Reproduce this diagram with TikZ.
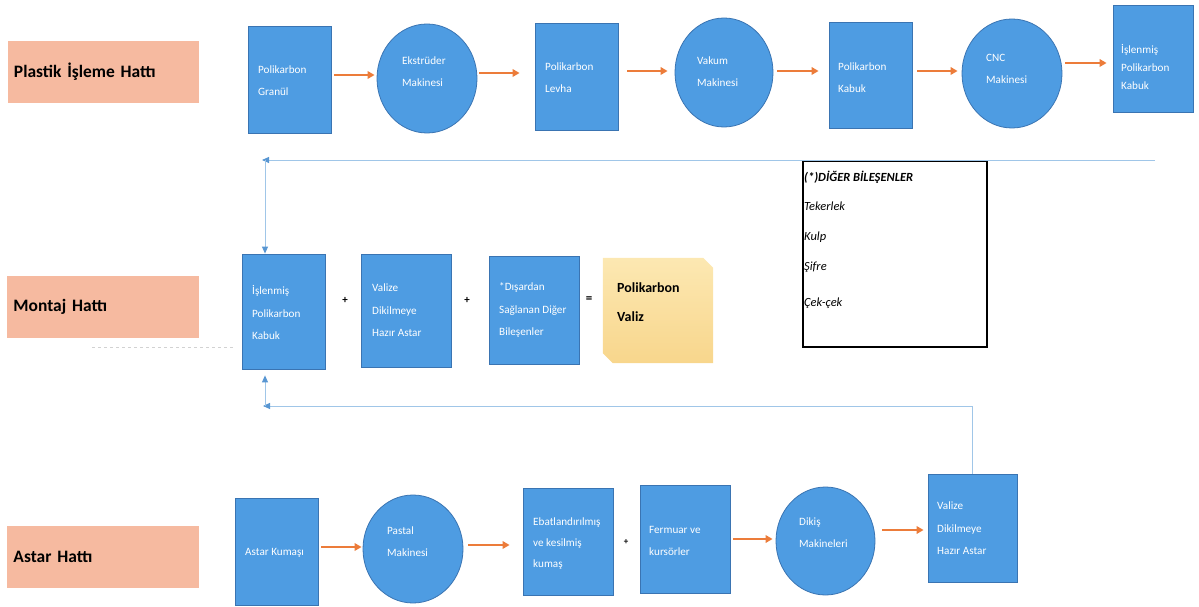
\documentclass[tikz,border=0pt]{standalone}
\usepackage{fontspec}
\setmainfont{Carlito}
\usetikzlibrary{arrows.meta,shapes.geometric}

\definecolor{laneFill}{RGB}{246,186,160}
\definecolor{stepFill}{RGB}{78,156,226}
\definecolor{stepEdge}{RGB}{58,116,178}
\definecolor{flowOrange}{RGB}{236,124,58}
\definecolor{linkBlue}{RGB}{160,198,232}
\definecolor{tipBlue}{RGB}{88,150,210}
\definecolor{goldTop}{RGB}{252,232,178}
\definecolor{goldBot}{RGB}{248,214,140}

\tikzset{
  lane/.style={rectangle, fill=laneFill, inner xsep=6bp, inner ysep=0pt,
    text width=179bp, minimum width=191bp, minimum height=62bp, align=left,
    font=\bfseries\fontsize{17.5}{20}\selectfont},
  stepbox/.style={rectangle, fill=stepFill, draw=stepEdge, line width=0.8bp, inner sep=0pt},
  stepdisc/.style={ellipse, fill=stepFill, draw=stepEdge, line width=0.8bp, inner sep=0pt},
  steptext/.style={text=white, align=left, inner sep=0pt, anchor=west,
    font=\fontsize{11.2}{22}\selectfont},
  flow/.style={draw=flowOrange, line width=2.3bp,
    -{Triangle[length=7bp,width=7.5bp]}},
  link/.style={draw=linkBlue, line width=0.9bp},
  linktip/.style={link, -{Triangle[length=7bp,width=6bp,color=tipBlue]}},
  oper/.style={inner sep=0pt, font=\bfseries\fontsize{11}{13}\selectfont},
  notetext/.style={inner sep=0pt, anchor=base west, font=\itshape\fontsize{12.5}{15}\selectfont},
}

\begin{document}
\begin{tikzpicture}[x=1bp,y=-1bp]
\useasboundingbox (0,0) rectangle (1199,607);

% ---- line labels ----
\node[lane] (lplastik) at (103.5,72) {Plastik İşleme Hattı};
\node[lane] (lmontaj)  at (103,307) {Montaj Hattı};
\node[lane] (lastar)   at (103,557) {Astar Hattı};
\draw[gray!35, line width=0.6bp, dash pattern=on 3bp off 3bp] (92,347) -- (233,347);

% ---- plastic processing line ----
\node[stepbox,  minimum width=83bp,  minimum height=107bp] (granul)    at (289.5,79.5) {};
\node[stepdisc, minimum width=100bp, minimum height=109bp] (ekstruder) at (427,78.5) {};
\node[stepbox,  minimum width=83bp,  minimum height=107bp] (levha)     at (576.5,76.5) {};
\node[stepdisc, minimum width=98bp,  minimum height=109bp] (vakum)     at (724,72.5) {};
\node[stepbox,  minimum width=83bp,  minimum height=106bp] (kabuk)     at (870.5,75) {};
\node[stepdisc, minimum width=100bp, minimum height=109bp] (cnc)       at (1012,73.5) {};
\node[stepbox,  minimum width=80bp,  minimum height=107bp] (islenmis)  at (1153,58.5) {};

\node[steptext] (granul-t)    at (258,81)   {Polikarbon\\Granül};
\node[steptext] (ekstruder-t) at (402,71.5) {Ekstrüder\\Makinesi};
\node[steptext] (levha-t)     at (545,78)   {Polikarbon\\Levha};
\node[steptext] (vakum-t)     at (697,72)   {Vakum\\Makinesi};
\node[steptext] (kabuk-t)     at (838,78)   {Polikarbon\\Kabuk};
\node[steptext] (cnc-t)       at (986,68.5) {CNC\\Makinesi};
\node[steptext, font=\fontsize{11.2}{18}\selectfont] (islenmis-t) at (1121,67) {İşlenmiş\\Polikarbon\\Kabuk};

\draw[flow, shorten <=3bp, shorten >=2bp]  (granul.east |- 0,75)    -- (ekstruder.west |- 0,75);
\draw[flow, shorten <=2bp, shorten >=15bp] (ekstruder.east |- 0,73) -- (levha.west |- 0,73);
\draw[flow, shorten <=9bp, shorten >=7bp]  (levha.east |- 0,71)     -- (vakum.west |- 0,71);
\draw[flow, shorten <=4bp, shorten >=10bp] (vakum.east |- 0,71)     -- (kabuk.west |- 0,71);
\draw[flow, shorten <=5bp, shorten >=4bp]  (kabuk.east |- 0,71)     -- (cnc.west |- 0,71);
\draw[flow, shorten <=3bp, shorten >=6bp]  (cnc.east |- 0,63)       -- (islenmis.west |- 0,63);

% ---- assembly line ----
\node[stepbox, minimum width=83bp, minimum height=115bp] (m1) at (283.5,311.5) {};
\node[stepbox, minimum width=90bp, minimum height=113bp] (m2) at (406,310.5) {};
\node[stepbox, minimum width=90bp, minimum height=108bp] (m3) at (534,310) {};
% finished case: a card with two snipped corners
\node[rectangle, minimum width=110bp, minimum height=105bp, inner sep=0pt] (valiz) at (658,310.5) {};
\shade[top color=goldTop, bottom color=goldBot]
  (valiz.north west) -- ([xshift=-10bp]valiz.north east) -- ([yshift=-10bp]valiz.north east)
  -- (valiz.south east) -- ([xshift=10bp]valiz.south west) -- ([yshift=10bp]valiz.south west) -- cycle;

\node[steptext, font=\fontsize{11.2}{22.5}\selectfont] (m1-t) at (252,312.5) {İşlenmiş\\Polikarbon\\Kabuk};
\node[steptext, font=\fontsize{11.2}{22.5}\selectfont] (m2-t) at (372,310.5) {Valize\\Dikilmeye\\Hazır Astar};
\node[steptext, font=\fontsize{11.2}{22.5}\selectfont] (m3-t) at (499,310) {*Dışardan\\Sağlanan Diğer\\Bileşenler};
\node[steptext, text=black, font=\bfseries\fontsize{14}{29}\selectfont] (valiz-t) at (617,302.5) {Polikarbon\\Valiz};

\node[oper] (plus1) at (345,300) {+};
\node[oper] (plus2) at (467,300) {+};
\node[oper, font=\bfseries\fontsize{13}{15}\selectfont] (equal) at (589,300) {=};

% ---- list of other components ----
\node[rectangle, draw=black, line width=1.3bp, fill=white,
      minimum width=184bp, minimum height=186bp, inner sep=0pt] (diger) at (895,254) {};
\node[notetext, font=\bfseries\itshape\fontsize{12.5}{15}\selectfont] (diger-h) at (804,182) {(*)DİĞER BİLEŞENLER};
\node[notetext] (diger-1) at (804,211) {Tekerlek};
\node[notetext] (diger-2) at (804,241) {Kulp};
\node[notetext] (diger-3) at (804,271) {Şifre};
\node[notetext] (diger-4) at (804,307) {Çek-çek};

% ---- lining line ----
\node[stepbox,  minimum width=83bp,  minimum height=107bp] (a1) at (276.5,551.5) {};
\node[stepdisc, minimum width=100bp, minimum height=108bp] (a2) at (413,549) {};
\node[stepbox,  minimum width=90bp,  minimum height=107bp] (a3) at (568,541.5) {};
\node[stepbox,  minimum width=90bp,  minimum height=108bp] (a4) at (685,539) {};
\node[stepdisc, minimum width=99bp,  minimum height=108bp] (a5) at (825.5,541) {};
\node[stepbox,  minimum width=89bp,  minimum height=108bp] (a6) at (972.5,528) {};

\node[steptext] (a1-t) at (245,553)   {Astar Kumaşı};
\node[steptext] (a2-t) at (387,541.5) {Pastal\\Makinesi};
\node[steptext, font=\fontsize{11.2}{21.5}\selectfont] (a3-t) at (533,543.5) {Ebatlandırılmış\\ve kesilmiş\\kumaş};
\node[steptext] (a4-t) at (649,541)   {Fermuar ve\\kursörler};
\node[steptext] (a5-t) at (799,532.5) {Dikiş\\Makineleri};
\node[steptext, font=\fontsize{11.2}{22.5}\selectfont] (a6-t) at (937,528.5) {Valize\\Dikilmeye\\Hazır Astar};

\node[oper, font=\bfseries\fontsize{9}{11}\selectfont] (plus3) at (626,542) {+};

\draw[flow, shorten <=3bp, shorten >=1bp]  (a1.east |- 0,547) -- (a2.west |- 0,547);
\draw[flow, shorten <=5bp, shorten >=13bp] (a2.east |- 0,545) -- (a3.west |- 0,545);
\draw[flow, shorten <=3bp, shorten >=3bp]  (a4.east |- 0,539) -- (a5.west |- 0,539);
\draw[flow, shorten <=7bp, shorten >=4bp]  (a5.east |- 0,530) -- (a6.west |- 0,530);

% ---- feed connectors into the assembly line ----
\coordinate (shellfeed) at (1155,160);
\coordinate (shellturn) at (265,160);
\draw[linktip, shorten >=-3bp] (shellfeed) -- (shellturn);
\draw[linktip] (shellturn) -- (shellturn |- m1.north);

\coordinate (liningturn) at (a6.north |- 0,406);
\coordinate (liningcorner) at (265,406);
\draw[link] (a6.north) -- (liningturn);
\draw[linktip, shorten >=-2bp] (liningturn) -- (liningcorner);
\draw[linktip, shorten >=6bp] (liningcorner) -- (liningcorner |- m1.south);

\end{tikzpicture}
\end{document}
